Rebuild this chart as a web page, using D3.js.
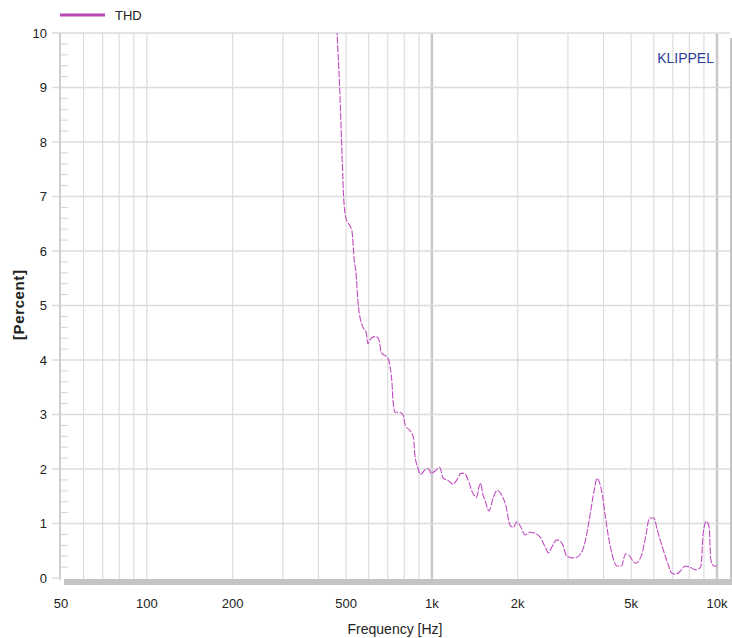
<!DOCTYPE html>
<html>
<head>
<meta charset="utf-8">
<script src="https://cdn.jsdelivr.net/npm/d3@7/dist/d3.min.js"></script>
<style>
  body { margin: 0; background: #fff; }
  svg text { font-family: "Liberation Sans", Arial, sans-serif; }
</style>
</head>
<body>
<div id="plotSect"></div>
<script>
// THD curve //
let freq = [462, 465, 474, 477, 484, 491, 500, 508, 524, 535, 541, 550, 553, 573, 588, 596, 612, 638, 653, 664,
    701, 714, 726, 730, 744, 770, 792, 807, 847, 863, 870, 894, 913, 943, 970, 996, 1023, 1065, 1095, 1140,
    1187, 1220, 1263, 1298, 1348, 1385, 1435, 1462, 1486, 1502, 1535, 1585, 1642, 1697, 1757, 1815, 1879, 1932, 1984, 2054,
    2122, 2210, 2301, 2397, 2496, 2566, 2635, 2744, 2857, 2975, 3098, 3227, 3408, 3548, 3695, 3795, 3867, 3975, 4060, 4228,
    4464, 4622, 4774, 4907, 5040, 5176, 5436, 5614, 5799, 6011, 6173, 6430, 6698, 6934, 7161, 7457, 7728, 8020, 8420, 8770,
    8840, 8943, 9185, 9389, 9512, 9776, 10000];
let thd = [10.4, 10.0, 9.08, 8.70, 7.75, 6.92, 6.59, 6.52, 6.37, 5.79, 5.64, 5.09, 4.96, 4.60, 4.51, 4.30, 4.40, 4.43, 4.36, 4.14,
    4.03, 3.86, 3.50, 3.26, 3.04, 3.04, 2.99, 2.80, 2.67, 2.56, 2.29, 2.01, 1.90, 1.98, 2.01, 1.92, 1.96, 2.03, 1.83, 1.79,
    1.72, 1.79, 1.92, 1.92, 1.76, 1.58, 1.48, 1.67, 1.74, 1.58, 1.43, 1.23, 1.48, 1.61, 1.52, 1.34, 0.97, 0.93, 1.03, 0.93,
    0.79, 0.84, 0.82, 0.75, 0.57, 0.46, 0.57, 0.70, 0.64, 0.40, 0.37, 0.38, 0.57, 1.01, 1.56, 1.83, 1.76, 1.48, 1.12, 0.57,
    0.22, 0.22, 0.44, 0.42, 0.33, 0.27, 0.42, 0.75, 1.10, 1.10, 0.88, 0.57, 0.29, 0.09, 0.07, 0.13, 0.22, 0.20, 0.15, 0.20,
    0.38, 0.82, 1.04, 0.93, 0.33, 0.22, 0.22];

let xTicks = [50, 100, 200, 500, 1000, 2000, 5000, 10000];
let xTickLabels = ["50", "100", "200", "500", "1k", "2k", "5k", "10k"];
let xGrid = [60, 70, 80, 90, 100, 200, 300, 400, 500, 600, 700, 800, 900, 1000,
    2000, 3000, 4000, 5000, 6000, 7000, 8000, 9000, 10000];
let yTicks = [0, 1, 2, 3, 4, 5, 6, 7, 8, 9, 10];

// chart setup //
let SVGwidth = 732, SVGheight = 638;
let plotLeft = 61, plotRight = 717, plotTop = 33, plotBottom = 578;

let svg = d3.select("#plotSect").append("svg")
    .attr("width", SVGwidth)
    .attr("height", SVGheight);

let xScale = d3.scaleLog().domain([50, 10000]).range([plotLeft, plotRight]);
let yScale = d3.scaleLinear().domain([0, 10]).range([plotBottom, plotTop]);

// vertical grid
svg.append("g").selectAll("line")
    .data(xGrid)
    .enter().append("line")
    .attr("x1", d => xScale(d)).attr("x2", d => xScale(d))
    .attr("y1", plotTop).attr("y2", plotBottom + 1)
    .attr("stroke", d => (d == 1000 || d == 10000) ? "#c8c8c8" : "#dcdcdc")
    .attr("stroke-width", d => (d == 1000 || d == 10000) ? 2.5 : 1.2);

// horizontal grid + left ticks
svg.append("g").selectAll("line")
    .data(yTicks.filter(d => d > 0))
    .enter().append("line")
    .attr("x1", plotLeft - 9).attr("x2", 730)
    .attr("y1", d => yScale(d)).attr("y2", d => yScale(d))
    .attr("stroke", "#dcdcdc")
    .attr("stroke-width", 1.5);

// minor ticks on left axis
let minor = d3.range(0, 10.01, 0.2).filter(d => Math.abs(d - Math.round(d)) > 0.01);
svg.append("g").selectAll("line")
    .data(minor)
    .enter().append("line")
    .attr("x1", plotLeft - 1).attr("x2", plotLeft + 7)
    .attr("y1", d => yScale(d)).attr("y2", d => yScale(d))
    .attr("stroke", "#d4d4d4")
    .attr("stroke-width", 1);

// left axis line
svg.append("line")
    .attr("x1", plotLeft - 1).attr("x2", plotLeft - 1)
    .attr("y1", plotTop).attr("y2", plotBottom + 2)
    .attr("stroke", "#cfcfcf")
    .attr("stroke-width", 2);

svg.append("line")
    .attr("x1", plotLeft - 9).attr("x2", plotLeft)
    .attr("y1", plotBottom).attr("y2", plotBottom)
    .attr("stroke", "#dcdcdc").attr("stroke-width", 1.5);

// right frame
svg.append("line")
    .attr("x1", 731).attr("x2", 731)
    .attr("y1", 38).attr("y2", plotBottom + 6)
    .attr("stroke", "#c4c4c4")
    .attr("stroke-width", 2);

// bottom bar
svg.append("rect")
    .attr("x", 64).attr("y", plotBottom + 1)
    .attr("width", 668).attr("height", 6)
    .attr("fill", "#c4c4c4");

// y tick labels
svg.append("g").selectAll("text")
    .data(yTicks)
    .enter().append("text")
    .attr("x", 47)
    .attr("y", d => yScale(d))
    .attr("dy", "0.36em")
    .attr("text-anchor", "end")
    .attr("font-size", 13)
    .attr("fill", "#222")
    .text(d => d);

// x tick labels
svg.append("g").selectAll("text")
    .data(xTicks)
    .enter().append("text")
    .attr("x", d => xScale(d))
    .attr("y", 608)
    .attr("text-anchor", "middle")
    .attr("font-size", 13)
    .attr("fill", "#222")
    .text((d, i) => xTickLabels[i]);

// axis labels
svg.append("text")
    .attr("x", 395).attr("y", 634)
    .attr("text-anchor", "middle")
    .attr("font-size", 14)
    .attr("fill", "#222")
    .text("Frequency [Hz]");

svg.append("text")
    .attr("transform", "translate(24,305) rotate(-90)")
    .attr("text-anchor", "middle")
    .attr("font-size", 15)
    .attr("font-weight", "bold")
    .attr("textLength", 70)
    .attr("lengthAdjust", "spacing")
    .attr("fill", "#222")
    .text("[Percent]");

// KLIPPEL mark
svg.append("text")
    .attr("x", 714).attr("y", 62.5)
    .attr("text-anchor", "end")
    .attr("font-size", 14)
    .attr("fill", "#2e3c9c")
    .text("KLIPPEL");

// legend
svg.append("line")
    .attr("x1", 60).attr("x2", 105)
    .attr("y1", 15).attr("y2", 15)
    .attr("stroke", "#b848b8")
    .attr("stroke-width", 3);
svg.append("text")
    .attr("x", 115).attr("y", 19.5)
    .attr("font-size", 13)
    .attr("fill", "#222")
    .text("THD");

// curve
svg.append("clipPath").attr("id", "plotClip")
    .append("rect")
    .attr("x", plotLeft).attr("y", plotTop)
    .attr("width", plotRight - plotLeft).attr("height", plotBottom - plotTop);

let line = d3.line()
    .x((d, i) => xScale(freq[i]))
    .y(d => yScale(d))
    .curve(d3.curveMonotoneX);

svg.append("path")
    .datum(thd)
    .attr("clip-path", "url(#plotClip)")
    .attr("fill", "none")
    .attr("stroke", "#c04cc0")
    .attr("stroke-width", 1.1)
    .attr("stroke-dasharray", "7,1.5")
    .attr("d", line);
</script>
</body>
</html>
